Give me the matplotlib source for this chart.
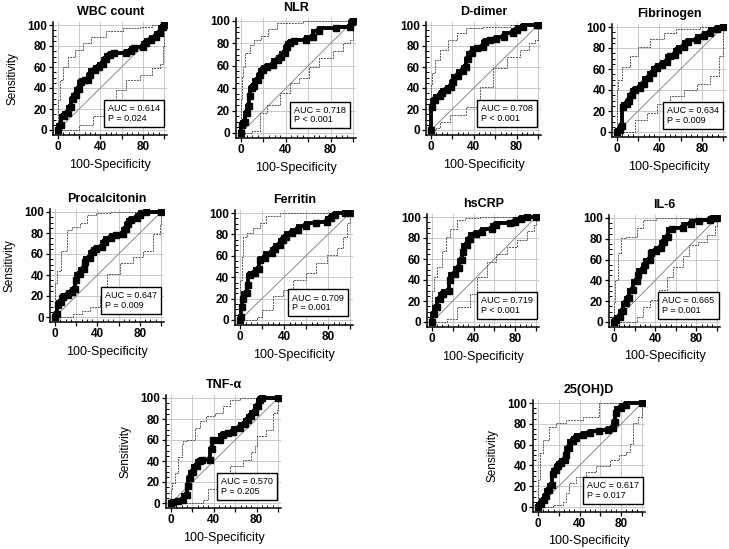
import matplotlib
matplotlib.use("Agg")
import matplotlib.pyplot as plt
from matplotlib.ticker import MultipleLocator, FixedLocator

plt.rcParams['font.family'] = ['Liberation Sans', 'DejaVu Sans']

# ---------------- data (percent) ----------------
titles = ["WBC count", "NLR", "D-dimer", "Fibrinogen", "Procalcitonin",
          "Ferritin", "hsCRP", "IL-6", "TNF-\u03b1", "25(OH)D"]
auc_values = ["0.614", "0.718", "0.708", "0.634", "0.647", "0.709", "0.719", "0.665", "0.570", "0.617"]
p_values = ["P = 0.024", "P < 0.001", "P < 0.001", "P = 0.009", "P = 0.009",
            "P = 0.001", "P < 0.001", "P = 0.001", "P = 0.205", "P = 0.017"]

wbc_x = [0, 3, 6, 9, 12, 14, 17, 20, 22, 25, 28, 30, 35, 39, 42, 45, 49, 53, 64, 69, 72, 80, 83, 88, 92, 96, 99, 100]
wbc_y = [0, 5, 13, 16, 22, 30, 33, 39, 46, 48, 48, 52, 57, 60, 63, 68, 71, 73, 73, 75, 78, 79, 83, 86, 89, 92, 98, 100]
wbc_up_x = [0, 2, 5, 9, 16, 24, 31, 45, 61, 77, 89, 100]
wbc_up_y = [0, 29, 48, 60, 70, 76, 83, 89, 94, 97, 98, 100]
wbc_lo_x = [0, 14, 20, 33, 45, 55, 64, 77, 89, 96, 99, 100]
wbc_lo_y = [0, 0, 5, 13, 25, 38, 48, 52, 59, 63, 79, 100]

nlr_x = [0, 0.6, 4, 5, 7, 8, 9.5, 12, 15, 17, 20, 23, 29, 33, 36, 39, 41, 44, 47, 58, 64, 70, 85, 97, 99, 100]
nlr_y = [0, 7, 10, 18, 24, 33, 40, 42, 47, 52, 56, 59, 61, 65, 68, 71, 77, 80, 82, 83, 86, 91, 94, 95, 99, 100]
nlr_up_x = [0, 0.6, 2, 4, 8, 12, 18, 24, 32, 55, 100]
nlr_up_y = [0, 30, 50, 59, 71, 79, 83, 87, 93, 98, 100]
nlr_lo_x = [0, 5, 9.5, 17, 23, 35, 44, 52, 61, 70, 82, 91, 97, 100]
nlr_lo_y = [0, 0, 1.5, 18, 25, 36, 45, 49, 59, 67, 73, 80, 83, 100]

ddim_x = [0, 0.6, 4, 8, 10, 15, 19, 21, 25, 30, 33, 35, 38, 43, 49, 50, 55, 61, 68, 77, 80, 86, 99, 100]
ddim_y = [0, 22, 29, 32, 35, 38, 41, 46, 51, 56, 60, 68, 73, 78, 79, 84, 86, 87, 89, 92, 95, 98, 100, 100]
ddim_up_x = [0, 0.6, 4, 8, 16, 24, 33, 49, 74, 100]
ddim_up_y = [0, 44, 54, 67, 76, 86, 92, 97, 98, 100]
ddim_lo_x = [0, 5, 8, 18, 33, 46, 58, 71, 83, 92, 97, 100]
ddim_lo_y = [0, 2, 8, 14, 22, 41, 59, 70, 76, 83, 86, 100]

fib_x = [0, 3, 5, 5.6, 9, 11, 14, 17, 22, 25, 30, 34, 38, 42, 47, 50, 55, 58, 63, 67, 75, 82, 88, 94, 100]
fib_y = [0, 1.6, 6, 24, 27, 30, 35, 40, 42, 46, 51, 56, 61, 64, 67, 72, 73, 78, 81, 86, 88, 91, 94, 98, 100]
fib_up_x = [0, 0.6, 5, 12.5, 20, 31, 44, 56, 78, 100]
fib_up_y = [0, 40, 50, 62, 72, 81, 89, 94, 98, 100]
fib_lo_x = [0, 16, 17, 28, 38, 50, 63, 75, 88, 96, 100]
fib_lo_y = [0, 0, 11, 18, 27, 34, 40, 46, 53, 72, 100]

pct_x = [0, 1.6, 3, 6, 8, 12.5, 16, 19, 20, 23.5, 27, 28, 33, 36, 39, 44, 47, 53, 58, 64, 67, 69, 72, 77, 80, 86, 100]
pct_y = [0, 3, 11, 14, 19, 21, 24, 27, 35, 41, 46, 52, 56, 62, 65, 67, 71, 75, 78, 79, 84, 89, 92, 94, 97, 100, 100]
pct_up_x = [0, 1.6, 6, 11, 16, 23.5, 30, 39, 52, 100]
pct_up_y = [0, 32, 44, 63, 83, 86, 90, 97, 99, 100]
pct_lo_x = [0, 11, 17, 25, 33, 42, 49, 61, 74, 83, 92, 99, 100]
pct_lo_y = [0, 0, 3, 6, 10, 19, 41, 51, 57, 63, 79, 89, 100]

fer_x = [0, 1, 1.5, 3, 6, 7.5, 9, 13.6, 17, 18, 23, 29, 32, 36, 39, 42, 47, 53, 60, 69, 79, 83, 86, 95, 100]
fer_y = [0, 3, 12.5, 20, 25, 33, 42, 44, 48, 56, 58, 62.5, 66, 70, 75, 78, 81, 84, 87.5, 91, 92, 95, 98, 100, 100]
fer_up_x = [0, 1.5, 3, 6, 12, 18, 24, 36, 66, 100]
fer_up_y = [0, 37, 59, 78, 81, 86, 91, 97, 100, 100]
fer_lo_x = [0, 12, 15, 20, 30, 39, 48, 60, 69, 79, 88, 94, 97, 100]
fer_lo_y = [0, 0, 3, 9, 22, 28, 37.5, 44, 53, 61, 67, 78, 91, 100]

crp_x = [0, 1.6, 5, 8, 11, 16, 17.6, 22, 25.6, 29, 30, 34, 37, 42, 48, 58, 62, 75, 80, 86, 91, 100]
crp_y = [0, 8, 14, 22, 27, 30, 40, 46, 51, 59, 67, 73, 79, 84, 86, 89, 92, 94, 95, 98, 100, 100]
crp_up_x = [0, 1.6, 5, 10, 13, 17.6, 24, 32, 46, 100]
crp_up_y = [0, 30, 43, 52, 68, 81, 89, 97, 99, 100]
crp_lo_x = [0, 8, 14, 24, 37, 43, 53, 62, 72, 82, 91, 98, 100]
crp_lo_y = [0, 0, 3, 14, 27, 43, 57, 65, 71, 78, 87, 92, 100]

il6_x = [0, 2, 5.5, 9, 12, 15, 18, 22, 23, 28, 30, 35, 36, 41, 46, 49, 52, 56, 67, 75, 83, 93, 96, 100]
il6_y = [0, 1.6, 5, 11, 18, 22.6, 31, 39, 45, 50, 55, 60, 66, 68, 71, 77, 82, 89, 90, 94, 97, 98, 100, 100]
il6_up_x = [0, 0.6, 4, 7, 12, 22, 28, 41, 67, 100]
il6_up_y = [0, 18, 40, 66, 81, 82, 90, 98, 100, 100]
il6_lo_x = [0, 15, 22, 28, 35, 44, 51, 57, 67, 73, 82, 90, 98, 100]
il6_lo_y = [0, 0, 5, 14.5, 21, 31, 43.5, 53, 63, 74, 77, 84, 92, 100]

tnf_x = [0, 2, 7, 11.5, 14.6, 16, 18, 21, 24, 27, 28.7, 36, 38, 39.6, 46, 49, 53.6, 58, 64.5, 69, 72, 75, 78.5, 81.6, 83, 84.7, 100]
tnf_y = [0, 0.6, 1.6, 3, 8, 16, 24, 30, 35, 40, 41, 41, 51, 60, 60, 65, 67, 68, 71, 75, 79, 83, 87, 92, 98, 100, 100]
tnf_up_x = [0, 0.6, 4, 7, 10, 11.5, 14.6, 22, 27, 33, 41, 49, 55, 64.5, 70.7, 100]
tnf_up_y = [0, 13, 19, 29, 44, 56, 59, 60, 71, 78, 83, 86, 92, 98, 100, 100]
tnf_lo_x = [0, 27, 30, 35, 43, 55, 67.6, 75, 78.5, 80, 89, 95.6, 99, 100]
tnf_lo_y = [0, 0, 3, 13, 25, 35, 41, 49, 54, 63.5, 70, 86, 89, 100]

vitd_x = [0, 3, 6, 8, 11, 13, 14, 17.6, 19, 22, 25.6, 27, 30, 33.6, 37, 43, 50, 59, 67, 72, 73.6, 75, 80, 85, 100]
vitd_y = [0, 3, 6.5, 11, 16, 21, 32, 35.5, 39, 42, 45, 50, 56.5, 63, 66, 69, 71, 72.6, 74, 76, 82, 90, 95, 98, 100]
vitd_up_x = [0, 1.6, 5, 11, 17.6, 27, 43, 59, 62, 100]
vitd_up_y = [0, 26, 52, 64.5, 77, 81, 84, 87, 100, 100]
vitd_lo_x = [0, 14, 24, 27, 30, 37, 46, 56, 69, 78, 85, 88, 91, 96, 100]
vitd_lo_y = [0, 1.6, 5, 13, 22.6, 29, 34, 39, 45, 50, 53, 61, 81, 87, 100]

curves = [(wbc_x, wbc_y), (nlr_x, nlr_y), (ddim_x, ddim_y), (fib_x, fib_y), (pct_x, pct_y),
          (fer_x, fer_y), (crp_x, crp_y), (il6_x, il6_y), (tnf_x, tnf_y), (vitd_x, vitd_y)]
uppers = [(wbc_up_x, wbc_up_y), (nlr_up_x, nlr_up_y), (ddim_up_x, ddim_up_y), (fib_up_x, fib_up_y),
          (pct_up_x, pct_up_y), (fer_up_x, fer_up_y), (crp_up_x, crp_up_y), (il6_up_x, il6_up_y),
          (tnf_up_x, tnf_up_y), (vitd_up_x, vitd_up_y)]
lowers = [(wbc_lo_x, wbc_lo_y), (nlr_lo_x, nlr_lo_y), (ddim_lo_x, ddim_lo_y), (fib_lo_x, fib_lo_y),
          (pct_lo_x, pct_lo_y), (fer_lo_x, fer_lo_y), (crp_lo_x, crp_lo_y), (il6_lo_x, il6_lo_y),
          (tnf_lo_x, tnf_lo_y), (vitd_lo_x, vitd_lo_y)]

# ---------------- layout (pixel positions of data 0 and 100) ----------------
W, H = 729, 549
panel_px = [  # px0, px100, py0, py100
    (58, 164, 130, 25), (241, 353, 133, 21), (431, 538, 130, 25), (617, 723, 132, 27),
    (55, 161, 317, 212), (240, 350, 320, 213), (432, 536, 322, 217), (614, 717, 322, 218),
    (171, 278, 503, 398), (538, 642, 507, 403),
]
ylabel_on = [True, False, False, False, True, False, False, False, True, True]
LO, HI = -4.5, 103

fig = plt.figure(figsize=(W / 100, H / 100), dpi=100)

for i in range(10):
    px0, px100, py0, py100 = panel_px[i]
    sx = (px100 - px0) / 100.0
    sy = (py0 - py100) / 100.0
    left = (px0 + LO * sx) / W
    width = (HI - LO) * sx / W
    bottom = (H - (py0 - LO * sy)) / H
    height = (HI - LO) * sy / H
    ax = fig.add_axes([left, bottom, width, height])
    ax.set_xlim(LO, HI)
    ax.set_ylim(LO, HI)

    ax.xaxis.set_major_locator(FixedLocator([0, 20, 40, 60, 80, 100]))
    ax.set_xticklabels(['0', '', '40', '', '80', ''])
    ax.yaxis.set_major_locator(FixedLocator([0, 20, 40, 60, 80, 100]))
    ax.set_yticklabels(['0', '20', '40', '60', '80', '100'])
    ax.xaxis.set_minor_locator(MultipleLocator(5))
    ax.yaxis.set_minor_locator(MultipleLocator(5))
    ax.grid(True, which='major', color='#c8c8c8', lw=0.7)
    ax.set_axisbelow(True)
    for s in ['top', 'right']:
        ax.spines[s].set_visible(False)
    for s in ['left', 'bottom']:
        ax.spines[s].set_linewidth(1.1)
    ax.tick_params(which='major', direction='out', length=3, width=0.9, pad=1.5,
                   labelsize=8.5)
    ax.tick_params(which='minor', direction='in', length=2.2, width=0.7)
    for lab in ax.get_xticklabels() + ax.get_yticklabels():
        lab.set_fontweight('bold')

    ax.plot([0, 100], [0, 100], color='#777777', lw=0.6)
    ux, uy = uppers[i]
    lx, ly = lowers[i]
    ax.plot(ux, uy, color='#555555', lw=0.7, ls=(0, (2, 1)), drawstyle='steps-pre')
    ax.plot(lx, ly, color='#555555', lw=0.7, ls=(0, (2, 1)), drawstyle='steps-post')
    cx, cy = curves[i]
    ax.plot(cx, cy, color='black', lw=2.8, drawstyle='steps-pre', solid_joinstyle='miter')
    ax.plot(cx, cy, ls='none', marker='s', ms=4.5, color='black')

    ax.text(47, 16, "AUC = " + auc_values[i] + "\n" + p_values[i], fontsize=6.5,
            ha='left', va='center', linespacing=1.1,
            bbox=dict(boxstyle='square,pad=0.45', fc='white', ec='black', lw=1.0))

    ax.set_title(titles[i], fontsize=9, fontweight='bold', pad=5)
    ax.set_xlabel("100-Specificity", fontsize=9, labelpad=4)
    if ylabel_on[i]:
        ax.set_ylabel("Sensitivity", fontsize=8.5, labelpad=6)

fig.savefig("out.png", dpi=100)
